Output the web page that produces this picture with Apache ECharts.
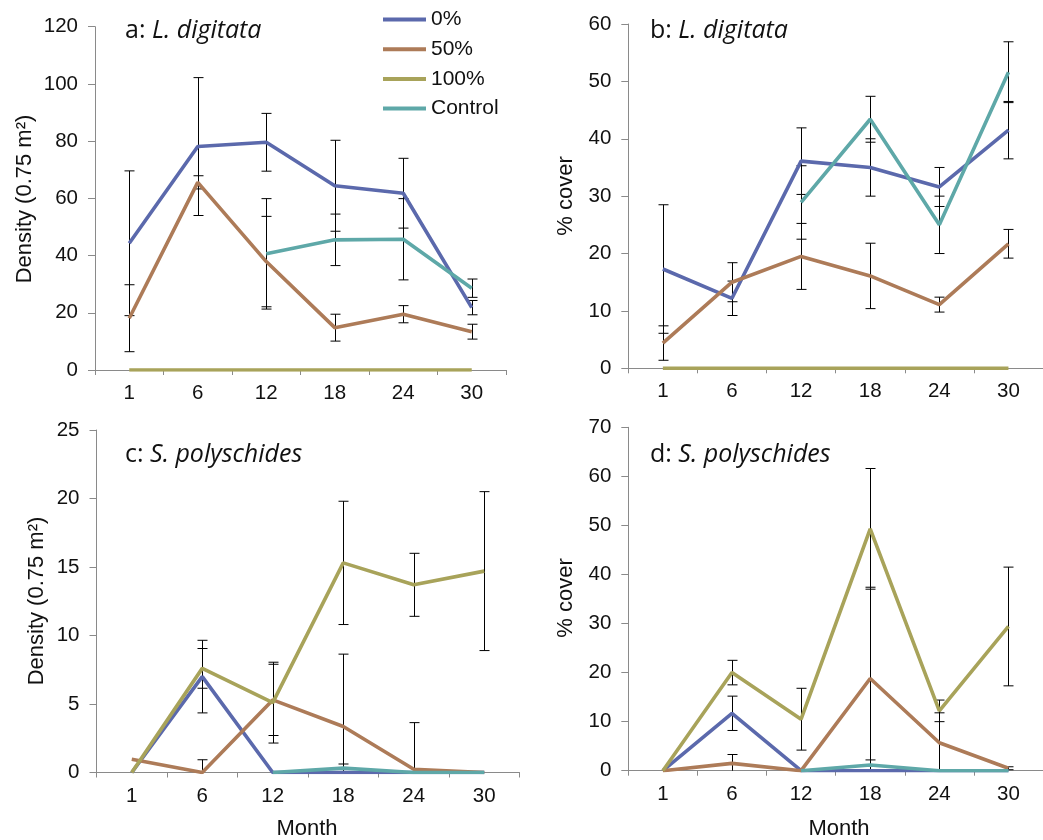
<!DOCTYPE html>
<html>
<head>
<meta charset="utf-8">
<script src="https://cdn.jsdelivr.net/npm/echarts@6/dist/echarts.min.js"></script>
<style>html,body{margin:0;padding:0;background:#fff;}#c{width:1043px;height:840px;}</style>
</head>
<body>
<div id="c"></div>
<script>
// ---- data ----
const months = ['1', '6', '12', '18', '24', '30'];
const seriesNames = ['0%', '50%', '100%', 'Control'];

// panel a: L. digitata density
const aMean0 = [44.3, 78.1, 79.6, 64.4, 61.8, 21.8];
const aErr0 = [25.3, 24.1, 10.1, 15.9, 12.2, 2.5];
const aMean50 = [18.1, 65.6, 37.9, 14.8, 19.5, 13.4];
const aErr50 = [11.7, 2.3, 15.8, 4.7, 3.0, 2.6];
const aMean100 = [0, 0, 0, 0, 0, 0];
const aErr100 = [null, null, null, null, null, null];
const aMeanC = [null, null, 40.6, 45.5, 45.7, 28.6];
const aErrC = [null, null, 19.3, 9.0, 14.2, 3.2];

// panel b: L. digitata % cover
const bMean0 = [17.3, 12.2, 36.1, 35.0, 31.6, 41.5];
const bErr0 = [11.2, 3.0, 5.8, 5.0, 3.4, 5.0];
const bMean50 = [4.4, 15.0, 19.5, 16.1, 11.1, 21.7];
const bErr50 = [3.0, 3.4, 5.75, 5.7, 1.3, 2.5];
const bMean100 = [0, 0, 0, 0, 0, 0];
const bErr100 = [null, null, null, null, null, null];
const bMeanC = [null, null, 28.9, 43.4, 25.0, 51.6];
const bErrC = [null, null, 6.4, 4.0, 5.0, 5.3];

// panel c: S. polyschides density
const cMean0 = [0, 7.0, 0, 0, 0, 0];
const cErr0 = [null, 2.65, null, null, null, null];
const cMean50 = [0.97, 0, 5.3, 3.36, 0.24, 0];
const cErr50 = [null, 0.93, 2.6, 5.28, 3.4, null];
const cMean100 = [0, 7.6, 5.1, 15.3, 13.7, 14.7];
const cErr100 = [null, 1.45, 2.95, 4.5, 2.3, 5.8];
const cMeanC = [null, null, 0, 0.32, 0, 0];
const cErrC = [null, null, null, 0.3, null, null];

// panel d: S. polyschides % cover
const dMean0 = [0, 11.7, 0, 0, 0, 0];
const dErr0 = [null, 3.5, null, null, null, null];
const dMean50 = [0, 1.5, 0, 18.8, 5.7, 0.5];
const dErr50 = [null, 1.8, null, 18.6, 6.1, 0.3];
const dMean100 = [0, 20.0, 10.5, 49.3, 12.2, 29.4];
const dErr100 = [null, 2.5, 6.3, 12.3, 2.2, 12.1];
const dMeanC = [null, null, 0, 1.15, 0, 0];
const dErrC = [null, null, null, 1.05, null, null];

// y-axis ranges
const aY = {max: 120, interval: 20};
const bY = {max: 60, interval: 10};
const cY = {max: 25, interval: 5};
const dY = {max: 70, interval: 10};

// ---- styling ----
const colors = ['#5b69ac', '#ad7b58', '#a8a35a', '#5ea8a8'];
const FONT = '"Liberation Sans", Arial, sans-serif';
const TFONT = '"Open Sans", "Noto Sans", sans-serif';
const axisGray = '#8a8a8a';

const grids = [
  {left: 95, top: 26.7, width: 411, height: 343.3},
  {left: 628.3, top: 24, width: 423, height: 344.3},
  {left: 96.5, top: 430, width: 423, height: 342.5},
  {left: 628.3, top: 427.3, width: 423, height: 343.4}
];

const panels = [
  {y: aY, means: [aMean0, aMean50, aMean100, aMeanC], errs: [aErr0, aErr50, aErr100, aErrC]},
  {y: bY, means: [bMean0, bMean50, bMean100, bMeanC], errs: [bErr0, bErr50, bErr100, bErrC]},
  {y: cY, means: [cMean0, cMean50, cMean100, cMeanC], errs: [cErr0, cErr50, cErr100, cErrC]},
  {y: dY, means: [dMean0, dMean50, dMean100, dMeanC], errs: [dErr0, dErr50, dErr100, dErrC]}
];

const xAxes = grids.map((g, i) => ({
  type: 'category', gridIndex: i, data: months, boundaryGap: true,
  axisLine: {lineStyle: {color: axisGray, width: 1}},
  axisTick: {show: true, length: 5, lineStyle: {color: axisGray}},
  axisLabel: {fontFamily: FONT, fontSize: 20.5, color: '#111', margin: 13},
  splitLine: {show: false}
}));
const yAxes = panels.map((p, i) => ({
  type: 'value', gridIndex: i, min: 0, max: p.y.max, interval: p.y.interval,
  axisLine: {show: true, lineStyle: {color: axisGray, width: 1}},
  axisTick: {show: true, length: 7, lineStyle: {color: axisGray}},
  axisLabel: {fontFamily: FONT, fontSize: 20.5, color: '#111', margin: 17},
  splitLine: {show: false}
}));

function errRender(params, api) {
  const idx = api.value(0);
  const lo = api.value(1);
  const hi = api.value(2);
  const top = api.coord([idx, hi]);
  const loClamped = Math.max(lo, 0);
  const bot = api.coord([idx, loClamped]);
  const x = Math.round(top[0]) + 0.5;
  const w = 5;
  const children = [
    {type: 'line', shape: {x1: x, y1: top[1], x2: x, y2: bot[1]}, style: {stroke: '#000', lineWidth: 1}},
    {type: 'line', shape: {x1: x - w, y1: top[1], x2: x + w, y2: top[1]}, style: {stroke: '#000', lineWidth: 1}}
  ];
  if (lo >= 0) {
    children.push({type: 'line', shape: {x1: x - w, y1: bot[1], x2: x + w, y2: bot[1]}, style: {stroke: '#000', lineWidth: 1}});
  }
  return {type: 'group', children: children};
}

const series = [];
panels.forEach((p, gi) => {
  p.means.forEach((m, si) => {
    const e = p.errs[si];
    const data = [];
    m.forEach((v, k) => {
      if (v !== null && e[k] !== null && e[k] !== undefined) data.push([k, v - e[k], v + e[k]]);
    });
    if (data.length) {
      series.push({
        type: 'custom', xAxisIndex: gi, yAxisIndex: gi, renderItem: errRender,
        data: data, encode: {x: 0, y: [1, 2]}, z: 2, silent: true, clip: false
      });
    }
  });
  p.means.forEach((m, si) => {
    series.push({
      name: seriesNames[si], type: 'line', xAxisIndex: gi, yAxisIndex: gi,
      data: m, showSymbol: false, symbol: 'none', connectNulls: false,
      lineStyle: {color: colors[si], width: 3.6}, itemStyle: {color: colors[si]},
      z: 3 + si, silent: true, animation: false
    });
  });
});

function title(x, y, letter, species) {
  return {
    type: 'text', left: x, top: y, z: 10,
    style: {
      text: '{n|' + letter + ': }{i|' + species + '}',
      rich: {
        n: {fontFamily: TFONT, fontSize: 25, fill: '#111'},
        i: {fontFamily: TFONT, fontSize: 25, fontStyle: 'italic', fill: '#111'}
      }
    }
  };
}
function rotName(cx, cy, text, size) {
  return {
    type: 'text', x: cx, y: cy, rotation: Math.PI / 2, z: 10,
    style: {text: text, fontFamily: FONT, fontSize: size, fill: '#111', align: 'center', verticalAlign: 'middle'}
  };
}
function plainText(cx, cy, text) {
  return {
    type: 'text', x: cx, y: cy, z: 10,
    style: {text: text, fontFamily: FONT, fontSize: 22, fill: '#111', align: 'center', verticalAlign: 'middle'}
  };
}

const option = {
  animation: false,
  backgroundColor: '#fff',
  grid: grids.map(g => Object.assign({containLabel: false}, g)),
  xAxis: xAxes,
  yAxis: yAxes,
  legend: {
    data: seriesNames, orient: 'vertical', left: 383, top: 9,
    icon: 'rect', itemWidth: 43, itemHeight: 4, itemGap: 8.7,
    textStyle: {fontFamily: FONT, fontSize: 21, color: '#111', lineHeight: 21, padding: [0, 0, 0, 0]},
    padding: 0, selectedMode: false
  },
  graphic: [
    title(125, 18, 'a', 'L. digitata'),
    title(650, 18, 'b', 'L. digitata'),
    title(125, 442, 'c', 'S. polyschides'),
    title(650, 442, 'd', 'S. polyschides'),
    rotName(25, 199, 'Density (0.75 m²)', 22),
    rotName(37, 601, 'Density (0.75 m²)', 22),
    rotName(566, 196, '% cover', 22),
    rotName(566, 598, '% cover', 22),
    plainText(307, 829, 'Month'),
    plainText(839, 829, 'Month')
  ],
  series: series
};

const chart = echarts.init(document.getElementById('c'), null, {renderer: 'canvas'});
chart.setOption(option);
</script>
</body>
</html>
